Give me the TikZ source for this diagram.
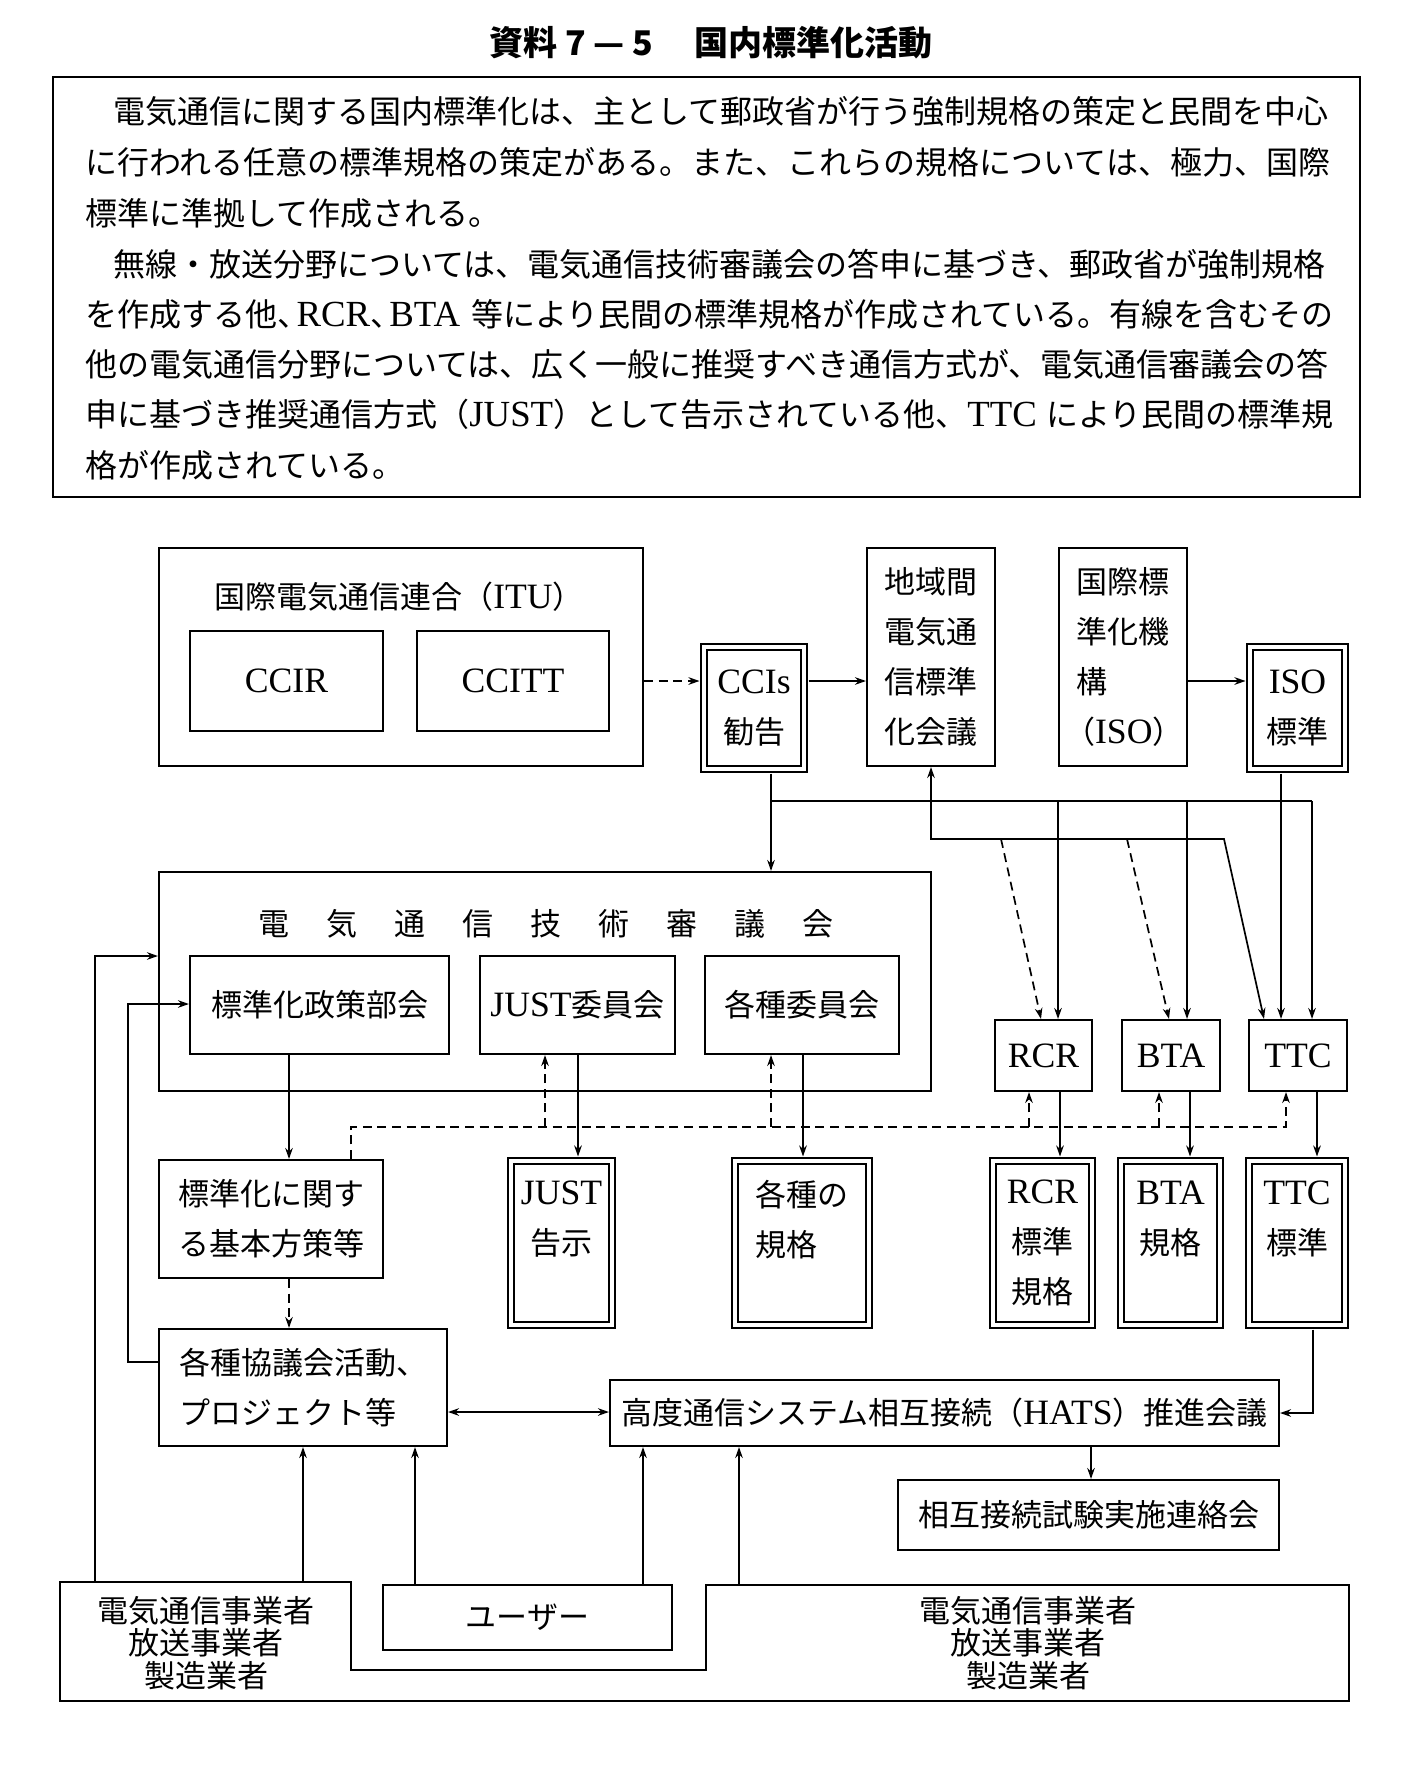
\documentclass[tikz,border=0pt]{standalone}
\usepackage{fontspec}
\setmainfont{Noto Sans CJK JP}
\newfontfamily\latfont[Scale=1.15]{Liberation Serif}
\newcommand{\LAT}[1]{{\latfont #1}}
\newcommand{\dgf}{\fontsize{15.5pt}{25pt}\selectfont}
\newcommand{\parf}{\fontsize{16pt}{25pt}\selectfont}
\newcommand{\botf}{\fontsize{15.5pt}{16.3pt}\selectfont}
\newcommand{\ttlf}{\fontsize{17pt}{20pt}\selectfont\bfseries}
\newcommand{\gapx}{\hspace{18.5pt}}
\newcommand{\hcomma}{\makebox[0.6em][l]{、}}
\usetikzlibrary{arrows.meta}
\XeTeXlinebreaklocale "ja"
\XeTeXlinebreakskip=0pt plus 3pt minus 1.5pt
\newcommand{\bnode}[7][]{\node[box,#1,minimum width={(#5-#3)*0.5pt},minimum height={(#6-#4)*0.5pt}] (#2) at ({(#3+#5)/2},{(#4+#6)/2}) {#7};}
\begin{document}
\begin{tikzpicture}[x=0.5pt,y=-0.5pt,
  every node/.style={inner sep=0pt, font=\dgf},
  box/.style={draw, line width=1.05pt, align=center},
  dbl/.style={double, double distance=2.4pt, line width=0.9pt},
  conn/.style={line width=0.85pt},
  arr/.style={conn, -{Stealth[length=5.5pt,width=3.8pt]}},
  darr/.style={arr, dash pattern=on 4.5pt off 2.8pt},
  dline/.style={conn, dash pattern=on 4.5pt off 2.8pt},
  todbl/.style={shorten >=1.8pt},
  fromdbl/.style={shorten <=1.8pt}]
\useasboundingbox (0,0) rectangle (1425,1777);

% title
\node[font=\ttlf] (title) at (711,43) {資料 7 — 5\hspace{1.2em}国内標準化活動};

% paragraph box
\bnode[line width=1.3pt]{para}{53}{77}{1360}{497}{}
\begin{scope}[every node/.style={inner sep=0pt, font=\parf, anchor=west}]
\node (p1) at (85,111) {\hbox to 624pt{\hspace{14pt}電気通信に関する国内標準化は、主として郵政省が行う強制規格の策定と民間を中心}};
\node (p2) at (85,162) {\hbox to 624pt{に行われる任意の標準規格の策定がある。また、これらの規格については、極力、国際}};
\node (p3) at (85,213) {標準に準拠して作成される。};
\node (p4) at (85,264) {\hbox to 624pt{\hspace{14pt}無線・放送分野については、電気通信技術審議会の答申に基づき、郵政省が強制規格}};
\node (p5) at (85,314) {\hbox to 624pt{を作成する他\hcomma\LAT{RCR}\hcomma\LAT{BTA} 等により民間の標準規格が作成されている。有線を含むその}};
\node (p6) at (85,364) {\hbox to 624pt{他の電気通信分野については、広く一般に推奨すべき通信方式が、電気通信審議会の答}};
\node (p7) at (85,414) {\hbox to 624pt{申に基づき推奨通信方式（\LAT{JUST}）として告示されている他、\LAT{TTC} により民間の標準規}};
\node (p8) at (85,465) {格が作成されている。};
\end{scope}

% ITU
\bnode{itu}{159}{548}{643}{766}{}
\node (ituT) at (399,597) {国際電気通信連合（\LAT{ITU}）};
\bnode{ccir}{190}{631}{383}{731}{\LAT{CCIR}}
\bnode{ccitt}{417}{631}{609}{731}{\LAT{CCITT}}
\bnode[dbl]{ccis}{704}{647}{804}{769}{\LAT{CCIs}\\勧告}
\bnode[align=left]{chiiki}{867}{548}{995}{766}{地域間\\電気通\\信標準\\化会議}
\bnode[align=left]{kokusai}{1059}{548}{1187}{766}{国際標\\準化機\\構\\\rlap{\hspace{-0.4em}（\LAT{ISO}）}}
\bnode[dbl]{isostd}{1250}{647}{1345}{769}{\LAT{ISO}\\標準}

% shingikai
\bnode{shingi}{159}{872}{931}{1091}{}
\node (shingiT) at (546,924) {電\gapx 気\gapx 通\gapx 信\gapx 技\gapx 術\gapx 審\gapx 議\gapx 会};
\bnode{seisaku}{190}{956}{449}{1054}{標準化政策部会}
\bnode{justc}{480}{956}{675}{1054}{\LAT{JUST}委員会}
\bnode{kakuc}{705}{956}{899}{1054}{各種委員会}

\bnode{rcr}{995}{1020}{1092}{1091}{\LAT{RCR}}
\bnode{bta}{1122}{1020}{1220}{1091}{\LAT{BTA}}
\bnode{ttc}{1249}{1020}{1347}{1091}{\LAT{TTC}}

\bnode[align=left]{kihon}{159}{1160}{383}{1278}{標準化に関す\\る基本方策等}
\bnode[align=left]{kyogi}{159}{1329}{447}{1446}{各種協議会活動、\\プロジェクト等}

\bnode[dbl]{justk}{511}{1161}{612}{1325}{\LAT{JUST}\\告示\\~}
\bnode[dbl,align=left]{kakuk}{735}{1161}{869}{1325}{各種の\\規格\\~}
\bnode[dbl]{rcrk}{993}{1161}{1092}{1325}{\LAT{RCR}\\標準\\規格}
\bnode[dbl]{btak}{1121}{1161}{1220}{1325}{\LAT{BTA}\\規格\\~}
\bnode[dbl]{ttck}{1249}{1161}{1345}{1325}{\LAT{TTC}\\標準\\~}

\bnode{hats}{610}{1380}{1279}{1446}{高度通信システム相互接続（\LAT{HATS}）推進会議}
\bnode{sogo}{898}{1480}{1279}{1550}{相互接続試験実施連絡会}
\bnode{user}{383}{1585}{672}{1650}{ユーザー}

% operators polygon
\draw[line width=1.05pt] (60,1582) -- (351,1582) -- (351,1670) -- (706,1670) -- (706,1585) -- (1349,1585) -- (1349,1701) -- (60,1701) -- cycle;
\node[font=\botf, align=center] (opL) at (206,1643) {電気通信事業者\\放送事業者\\製造業者};
\node[font=\botf, align=center] (opR) at (1028,1643) {電気通信事業者\\放送事業者\\製造業者};
\coordinate (opA) at (95,1582);
\coordinate (opB) at (303,1582);
\coordinate (opC) at (739,1585);

% top connectors
\draw[darr, todbl] (itu.east |- 0,681) -- (ccis.west |- 0,681);
\draw[arr, fromdbl] (ccis.east |- 0,681) -- (chiiki.west |- 0,681);
\draw[arr, todbl] (kokusai.east |- 0,681) -- (isostd.west |- 0,681);
\draw[arr, fromdbl] (ccis.south -| 771,0) -- (shingi.north -| 771,0);
\coordinate (j1) at (771,801);
\coordinate (j2) at (1312,801);
\coordinate (jr) at (1058,801);
\coordinate (jb) at (1187,801);
\draw[conn] (j1) -- (j2);
\draw[arr] (jr) -- (jr |- rcr.north);
\draw[arr] (jb) -- (jb |- bta.north);
\draw[arr] (j2) -- (j2 |- ttc.north);
\draw[arr, fromdbl] (isostd.south -| 1281,0) -- (ttc.north -| 1281,0);
\draw[conn, {Stealth[length=5.5pt,width=3.8pt]}-{Stealth[length=5.5pt,width=3.8pt]}] (chiiki.south -| 931,0) -- (931,839) -- (1224,839) -- (ttc.north -| 1264,0);
\coordinate (dr) at (1001,839);
\coordinate (db) at (1127,839);
\draw[darr] (dr) -- (rcr.north -| 1041,0);
\draw[darr] (db) -- (bta.north -| 1169,0);

% middle connectors
\draw[arr] (seisaku.south -| 289,0) -- (kihon.north -| 289,0);
\draw[darr] (kihon.south -| 289,0) -- (kyogi.north -| 289,0);
\draw[darr] (kihon.north -| 351,0) -- (351,1127) -- (1286,1127) -- (ttc.south -| 1286,0);
\coordinate (b1) at (545,1127);
\coordinate (b2) at (771,1127);
\coordinate (b3) at (1029,1127);
\coordinate (b4) at (1159,1127);
\draw[darr] (b1) -- (b1 |- justc.south);
\draw[darr] (b2) -- (b2 |- kakuc.south);
\draw[darr] (b3) -- (b3 |- rcr.south);
\draw[darr] (b4) -- (b4 |- bta.south);
\draw[arr, todbl] (justc.south -| 578,0) -- (justk.north -| 578,0);
\draw[arr, todbl] (kakuc.south -| 803,0) -- (kakuk.north -| 803,0);
\draw[arr, todbl] (rcr.south -| 1060,0) -- (rcrk.north -| 1060,0);
\draw[arr, todbl] (bta.south -| 1190,0) -- (btak.north -| 1190,0);
\draw[arr, todbl] (ttc.south -| 1317,0) -- (ttck.north -| 1317,0);

% lower connectors
\draw[arr, fromdbl] (ttck.south -| 1313,0) -- (1313,1413) -- (hats.east |- 0,1413);
\draw[conn, {Stealth[length=5.5pt,width=3.8pt]}-{Stealth[length=5.5pt,width=3.8pt]}] (kyogi.east |- 0,1412) -- (hats.west |- 0,1412);
\draw[arr] (hats.south -| 1091,0) -- (sogo.north -| 1091,0);
\draw[arr] (opB) -- (opB |- kyogi.south);
\draw[arr] (user.north -| 415,0) -- (kyogi.south -| 415,0);
\draw[arr] (user.north -| 643,0) -- (hats.south -| 643,0);
\draw[arr] (opC) -- (opC |- hats.south);
\draw[arr] (opA) -- (95,956) -- (shingi.west |- 0,956);
\draw[arr] (kyogi.west |- 0,1362) -- (128,1362) -- (128,1004) -- (seisaku.west |- 0,1004);
\end{tikzpicture}
\end{document}
